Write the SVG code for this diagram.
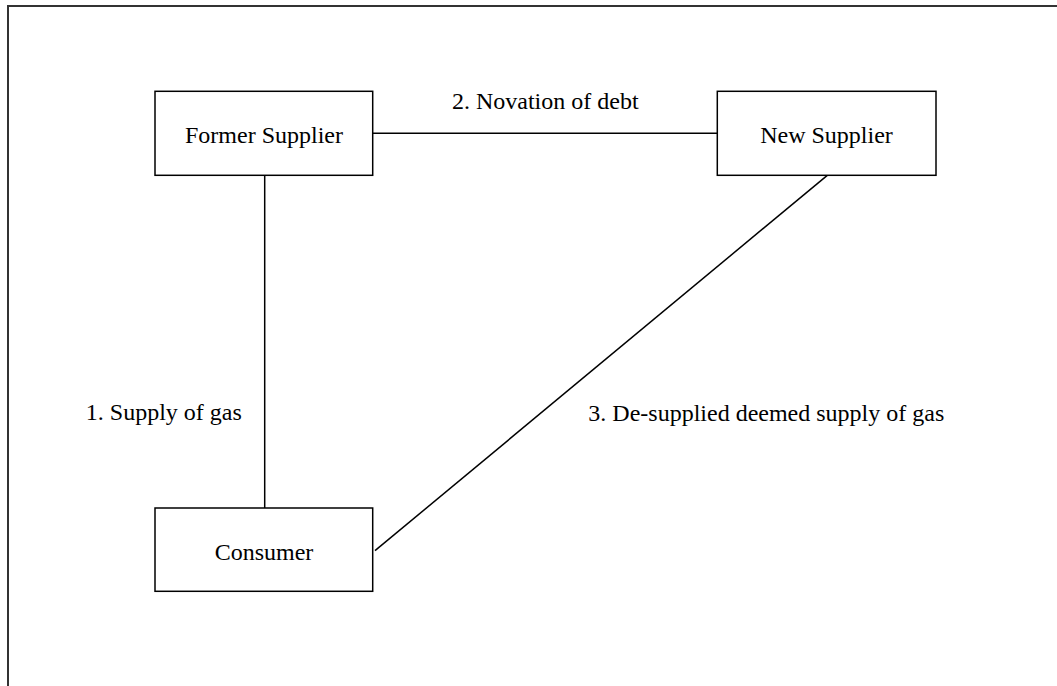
<svg xmlns="http://www.w3.org/2000/svg" width="1057" height="686" viewBox="0 0 1057 686">
<style>
.box{fill:#fff;stroke:#000;stroke-width:1.5}
.lbl{font-family:"Liberation Serif","Times New Roman",serif;font-size:24px;fill:#000;text-anchor:middle}
.conn{stroke:#000;stroke-width:1.5;fill:none}
.frame{stroke:#333;stroke-width:2;fill:none}
</style>
<rect width="1057" height="686" fill="#fff"/>
<path class="frame" d="M8,686 V6 H1057"/>
<g id="connectors">
<line class="conn" x1="373" y1="133.3" x2="717" y2="133.3"/>
<line class="conn" x1="264.7" y1="175.3" x2="264.7" y2="508"/>
<line class="conn" x1="827.3" y1="175.3" x2="375" y2="550.7"/>
<text class="lbl" x="545.3" y="109.3">2. Novation of debt</text>
<text class="lbl" x="163.8" y="420">1. Supply of gas</text>
<text class="lbl" x="766.3" y="421">3. De-supplied deemed supply of gas</text>
</g>
<g id="former-supplier">
<rect class="box" x="155" y="91.3" width="217.7" height="84"/>
<text class="lbl" x="264" y="143.3">Former Supplier</text>
</g>
<g id="new-supplier">
<rect class="box" x="717.3" y="91.3" width="218.7" height="84"/>
<text class="lbl" x="826.5" y="143.3">New Supplier</text>
</g>
<g id="consumer">
<rect class="box" x="155" y="508" width="217.7" height="83.3"/>
<text class="lbl" x="264" y="560">Consumer</text>
</g>
</svg>
